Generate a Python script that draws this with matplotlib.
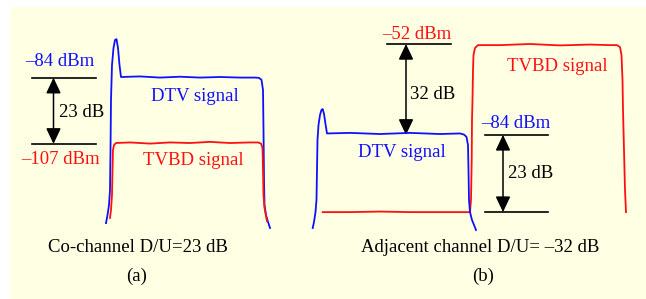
import matplotlib
matplotlib.use("Agg")
import matplotlib.pyplot as plt
from matplotlib.patches import Rectangle, FancyArrowPatch

plt.rcParams['font.family'] = ['Liberation Serif', 'DejaVu Serif']

# ---------------- data (x: frequency axis units, y: level in dBm) ----------------
# Panel (a): co-channel
dtv_a_x = [106, 107.5, 109, 110, 110.5, 111, 112, 113.5, 115, 116.5, 118, 119.5, 121,
           140, 160, 180, 200, 220, 240, 255, 259, 261.5, 263, 263.5, 264, 264.5, 266, 268, 270]
dtv_a_y = [-134.9, -132.1, -128.6, -123.4, -109.4, -92.0, -79.8, -73.9, -71.1, -70.8, -73.9, -79.8, -84.0,
           -83.8, -84.2, -83.9, -84.2, -84.0, -84.2, -84.2, -84.3, -85.0, -88.5, -102.5, -119.9, -128.6, -132.1, -134.5, -136.6]
tvbd_a_x = [110, 111, 112, 112.5, 113, 114, 116, 130, 150, 170, 190, 210, 230, 250, 258, 261,
            262.5, 263, 263.5, 264.5, 266, 267]
tvbd_a_y = [-133.1, -130.3, -125.1, -116.4, -109.4, -107.7, -107.0, -106.8, -107.2, -106.8, -107.0, -106.6,
            -107.0, -106.8, -106.8, -107.2, -108.7, -116.4, -125.1, -129.6, -132.4, -134.2]

# Panel (b): adjacent channel
dtv_b_x = [312.7, 314, 315.5, 316.5, 317, 317.5, 318.5, 320, 321.5, 322.7, 324, 325.5, 327,
           350, 380, 410, 440, 460, 464, 466.5, 468, 468.5, 469, 470, 472, 474, 476]
dtv_b_y = [-116.8, -114.7, -111.2, -106.9, -96.4, -85.8, -80.5, -77.0, -75.2, -74.9, -76.6, -80.2, -83.5,
           -83.3, -83.7, -83.3, -83.7, -83.5, -83.9, -84.7, -87.6, -96.4, -106.9, -111.2, -114.0, -115.7, -117.5]
tvbd_b_x = [322.7, 350, 380, 410, 440, 465, 470, 471, 471.7, 472, 472.5, 473, 473.5, 475, 478,
            500, 530, 560, 590, 610, 617, 620, 621.5, 622.5, 623, 624, 625, 626]
tvbd_b_y = [-111.2, -111.2, -111.0, -111.2, -111.2, -111.2, -111.2, -106.9, -92.8, -78.8, -71.7, -61.2, -55.9,
            -53.4, -52.4, -52.4, -52.0, -52.5, -52.2, -52.4, -52.4, -53.1, -55.9, -64.7, -75.2, -89.3, -103.4, -111.2]

# levels (dBm)
dtv_level_a = -84
tvbd_level_a = -107
tvbd_level_b = -52
dtv_level_b = -84
floor_level_b = -111.2

# ---------------- figure ----------------
W, H = 646, 299
fig = plt.figure(figsize=(W / 100, H / 100), dpi=100)
fig.patch.set_facecolor('white')

bg = fig.add_axes([10 / W, 0, 1 - 10 / W, 1 - 7 / H], zorder=0)
bg.set_facecolor('#FFFFE4')
bg.set_xticks([]); bg.set_yticks([])
for s in bg.spines.values():
    s.set_visible(False)

ax_a = fig.add_axes([0, 0, 1, 1], zorder=1)
ax_b = fig.add_axes([0, 0, 1, 1], zorder=2)
ax_a.set_xlim(0, W)
ax_b.set_xlim(0, W)
ax_a.set_ylim(-161.35, -57.17)
ax_b.set_ylim(-141.79, -36.51)
for ax in (ax_a, ax_b):
    ax.set_facecolor('none')
    ax.axis('off')

BLUE = '#1010FF'
RED = '#FF1010'
FS = 13.5
lw = 1.3

ax_a.plot(dtv_a_x, dtv_a_y, color=BLUE, lw=lw, solid_joinstyle='round')
ax_a.plot(tvbd_a_x, tvbd_a_y, color=RED, lw=lw, solid_joinstyle='round')
ax_b.plot(tvbd_b_x, tvbd_b_y, color=RED, lw=lw, solid_joinstyle='round')
ax_b.plot(dtv_b_x, dtv_b_y, color=BLUE, lw=lw, solid_joinstyle='round')


def hline(ax, y, x0, x1):
    ax.plot([x0, x1], [y, y], color='black', lw=1.2)


def darrow(ax, x, y0, y1):
    ar = FancyArrowPatch((x, y0), (x, y1),
                         arrowstyle='<|-|>,head_length=0.95,head_width=0.45',
                         mutation_scale=10, shrinkA=0, shrinkB=0,
                         color='black', lw=1.1)
    ax.add_patch(ar)


# panel (a) annotations
hline(ax_a, dtv_level_a - 0.25, 32, 96)
hline(ax_a, tvbd_level_a - 0.3, 32, 96)
darrow(ax_a, 53.5, dtv_level_a - 0.25, tvbd_level_a - 0.3)
ax_a.text(60, -80.2, '–84 dBm', color=BLUE, fontsize=FS, ha='center', va='baseline')
ax_a.text(59, -97.9, '23 dB', color='black', fontsize=FS, ha='left', va='baseline')
ax_a.text(60, -114.3, '–107 dBm', color=RED, fontsize=FS, ha='center', va='baseline')
ax_a.text(194.5, -92.4, 'DTV signal', color=BLUE, fontsize=FS, ha='center', va='baseline')
ax_a.text(193.5, -114.7, 'TVBD signal', color=RED, fontsize=FS, ha='center', va='baseline')
ax_a.text(137.5, -145.0, 'Co-channel D/U=23 dB', color='black', fontsize=FS, ha='center', va='baseline')
ax_a.text(137, -155.1, '(a)', color='black', fontsize=FS, ha='center', va='baseline')

# panel (b) annotations
hline(ax_b, tvbd_level_b, 387, 451)
darrow(ax_b, 406, tvbd_level_b, dtv_level_b)
hline(ax_b, dtv_level_b, 485, 548)
hline(ax_b, floor_level_b, 485, 548)
darrow(ax_b, 503, dtv_level_b, floor_level_b)
ax_b.text(417, -50.2, '–52 dBm', color=RED, fontsize=FS, ha='center', va='baseline')
ax_b.text(410, -71.4, '32 dB', color='black', fontsize=FS, ha='left', va='baseline')
ax_b.text(401.5, -91.8, 'DTV signal', color=BLUE, fontsize=FS, ha='center', va='baseline')
ax_b.text(557, -61.5, 'TVBD signal', color=RED, fontsize=FS, ha='center', va='baseline')
ax_b.text(516, -81.6, '–84 dBm', color=BLUE, fontsize=FS, ha='center', va='baseline')
ax_b.text(508, -99.2, '23 dB', color='black', fontsize=FS, ha='left', va='baseline')
ax_b.text(479.7, -125.2, 'Adjacent channel D/U= –32 dB', color='black', fontsize=FS, ha='center', va='baseline')
ax_b.text(483, -135.5, '(b)', color='black', fontsize=FS, ha='center', va='baseline')

fig.savefig('out.png', dpi=100, facecolor=fig.get_facecolor())
